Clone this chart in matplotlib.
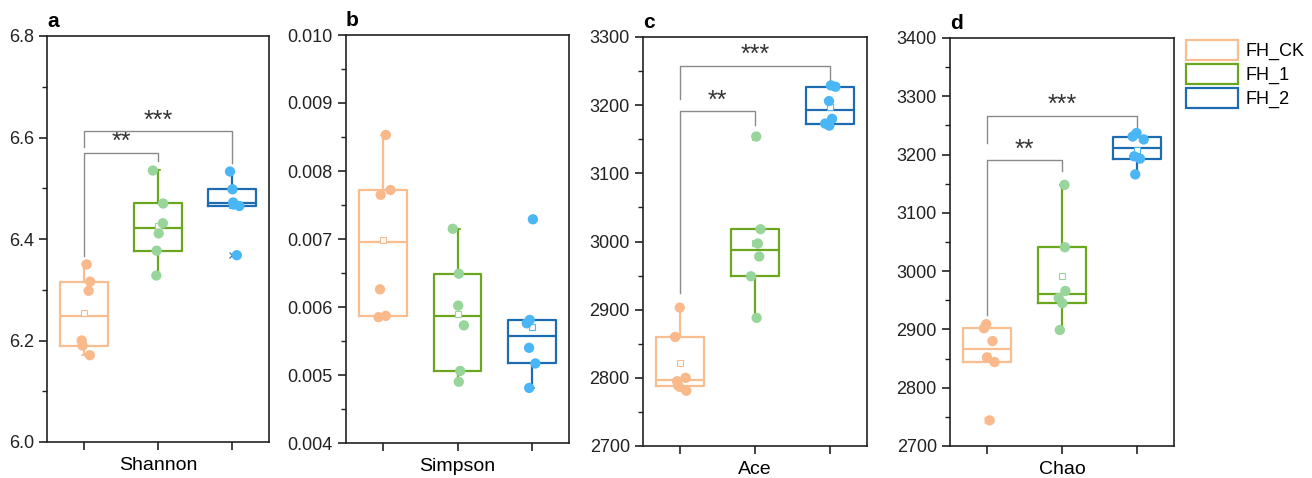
import numpy as np
import matplotlib.pyplot as plt
from matplotlib.patches import Patch

plt.rcParams['font.family'] = ['Liberation Sans', 'DejaVu Sans']

groups = ["FH_CK", "FH_1", "FH_2"]
box_colors = ["#F8BE90", "#6AA61E", "#1D6CB1"]
dot_colors = ["#F9B98A", "#97D59A", "#4AB6F6"]

shannon = [
    [6.350, 6.316, 6.298, 6.200, 6.190, 6.171],
    [6.535, 6.470, 6.431, 6.411, 6.377, 6.328],
    [6.533, 6.498, 6.472, 6.468, 6.465, 6.368],
]
simpson = [
    [0.00853, 0.00772, 0.00765, 0.00626, 0.00587, 0.00585],
    [0.00715, 0.00649, 0.00602, 0.00573, 0.00506, 0.00490],
    [0.00729, 0.00581, 0.00576, 0.00540, 0.00517, 0.00481],
]
ace = [
    [2903, 2860, 2800, 2795, 2788, 2781],
    [3154, 3018, 2997, 2978, 2949, 2888],
    [3229, 3227, 3206, 3180, 3173, 3170],
]
chao = [
    [2909, 2902, 2880, 2852, 2844, 2744],
    [3148, 3041, 2966, 2954, 2945, 2899],
    [3237, 3231, 3226, 3197, 3193, 3166],
]

panels = [
    ("a", "Shannon", shannon, (6.0, 6.8), 0.2),
    ("b", "Simpson", simpson, (0.004, 0.010), 0.001),
    ("c", "Ace", ace, (2700, 3300), 100),
    ("d", "Chao", chao, (2700, 3400), 100),
]

# significance brackets: (x1, x2, bar y, left leg bottom, right leg bottom, label)
brackets = {
    "a": [(1, 2, 6.570, 6.366, 6.554, "**"), (1, 3, 6.613, 6.582, 6.549, "***")],
    "b": [],
    "c": [(1, 2, 3191, 2924, 3171, "**"), (1, 3, 3258, 3209, 3237, "***")],
    "d": [(1, 2, 3190, 2925, 3172, "**"), (1, 3, 3267, 3219, 3248, "***")],
}

# axes boxes in pixels: left, right, top, bottom
W, H = 1312, 478
boxes_px = [(47, 269, 36, 442), (346, 569, 35, 443), (643, 867, 37, 446), (950, 1174, 38, 446)]


def box_stats(vals):
    v = np.sort(np.asarray(vals, dtype=float))
    q1 = np.percentile(v, 25, method="nearest")
    q3 = np.percentile(v, 75, method="nearest")
    iqr = q3 - q1
    inside = v[(v >= q1 - 1.5 * iqr) & (v <= q3 + 1.5 * iqr)]
    return dict(med=np.median(v), q1=q1, q3=q3, whislo=inside.min(), whishi=inside.max(),
                mean=v.mean(), fliers=v[(v < inside.min()) | (v > inside.max())])


fig = plt.figure(figsize=(W / 100, H / 100), dpi=100)
rng = np.random.default_rng(7)

for (letter, name, data, ylim, step), (l, r, t, b) in zip(panels, boxes_px):
    ax = fig.add_axes([l / W, 1 - b / H, (r - l) / W, (b - t) / H])
    for i, vals in enumerate(data):
        st = box_stats(vals)
        c = box_colors[i]
        ax.bxp([st], positions=[i + 1], widths=0.64, showmeans=True, capwidths=[0.06],
               boxprops=dict(color=c, lw=1.6), medianprops=dict(color=c, lw=1.6),
               whiskerprops=dict(color=c, lw=1.6), capprops=dict(color=c, lw=1.2),
               meanprops=dict(marker="s", mfc="white", mec=dot_colors[i], ms=4, mew=0.8),
               flierprops=dict(marker="x", mec=c, ms=4, mew=0.8))
        xs = i + 1 + rng.uniform(-0.07, 0.1, len(vals))
        ax.scatter(xs, vals, s=55, color=dot_colors[i], edgecolors="none", zorder=4)

    for x1, x2, yb, yl, yr, lab in brackets[letter]:
        ax.plot([x1, x1, x2, x2], [yl, yb, yb, yr], color="#8a8a8a", lw=1.0, zorder=3)
        ax.text((x1 + x2) / 2, yb - (ylim[1] - ylim[0]) * 0.004, lab, ha="center", va="bottom",
                fontsize=18, color="#333333")

    ax.set_xlim(0.5, 3.5)
    ax.set_ylim(*ylim)
    ax.set_xticks([1, 2, 3])
    ax.set_xticklabels([])
    ax.set_yticks(np.arange(ylim[0], ylim[1] + step / 2, step))
    ax.set_yticks(np.arange(ylim[0] + step / 2, ylim[1], step), minor=True)
    if letter == "b":
        ax.set_yticklabels([f"{v:.3f}" for v in ax.get_yticks()])
    elif letter == "a":
        ax.set_yticklabels([f"{v:.1f}" for v in ax.get_yticks()])
    else:
        ax.set_yticklabels([f"{v:.0f}" for v in ax.get_yticks()])
    ax.tick_params(axis="both", which="major", direction="out", length=6, width=1.2,
                   labelsize=13, colors="#222222")
    ax.tick_params(axis="y", which="minor", direction="out", length=3.5, width=1.0, colors="#222222")
    for s in ax.spines.values():
        s.set_linewidth(1.2)
        s.set_color("#222222")
    ax.set_xlabel(name, fontsize=14, labelpad=1)
    ax.text(0.0, 1.012, letter, transform=ax.transAxes, fontsize=15, fontweight="bold",
            ha="left", va="bottom")

handles = [Patch(facecolor="white", edgecolor=c, lw=1.6) for c in box_colors]
fig.legend(handles, groups, loc="upper left", bbox_to_anchor=(1186 / W, 1 - 40 / H),
           frameon=False, fontsize=13, handlelength=2.9, handleheight=1.35,
           handletextpad=0.4, labelspacing=0.2, borderpad=0, borderaxespad=0)

fig.savefig("out.png", dpi=100)
